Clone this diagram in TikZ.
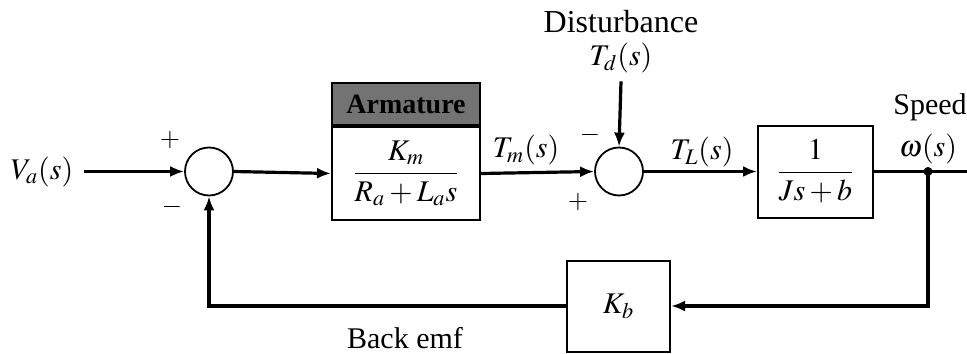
\documentclass[tikz,border=0pt]{standalone}
\usepackage{amsmath}
\usepackage{mathptmx}
\usepackage{fontspec}
\setmainfont{Liberation Serif}
\usetikzlibrary{positioning,arrows.meta,calc}
\tikzset{
  sig/.style  = {line width=1.6pt, -{Latex[length=7pt,width=5.5pt]}},
  wire/.style = {line width=1.6pt},
  sumc/.style = {circle, draw, line width=0.9pt, minimum size=24pt, inner sep=0pt},
  blk/.style  = {draw, line width=1pt, inner sep=0pt},
  lbl/.style  = {font=\fontsize{15}{17}\selectfont, inner sep=1pt},
  sgn/.style  = {font=\fontsize{13}{15}\selectfont, inner sep=1pt},
  jdot/.style = {circle, fill=black, inner sep=0pt, minimum size=4.5pt},
}
\begin{document}
\begin{tikzpicture}[x=0.5pt,y=-0.5pt]
  \useasboundingbox (0,0) rectangle (967,353);
  % forward path
  \node[lbl] (va) at (42,171.5) {$V_a(s)$};
  \node[sumc] (s1) at (209,171.5) {};
  \node[blk, fill=black!55, minimum width=74pt, minimum height=21pt,
        font=\fontsize{14}{16}\selectfont\bfseries] (armh) at (406,104) {Armature};
  \node[blk, minimum width=74pt, minimum height=46.5pt, below=0pt of armh,
        font=\fontsize{15}{17}\selectfont] (arm) {$\dfrac{K_m}{R_a+L_as}$};
  \node[sumc] (s2) at (619,171.5) {};
  \node[blk, minimum width=57.5pt, minimum height=46pt,
        font=\fontsize{15}{17}\selectfont] (tf) at (815.5,171.5) {$\dfrac{1}{Js+b}$};
  \node[jdot] (jn) at (928,171.5) {};
  \coordinate (yout) at (967,171.5);
  % feedback
  \node[blk, minimum width=51.5pt, minimum height=45.5pt,
        font=\fontsize{15}{17}\selectfont] (kb) at (618.5,306) {$K_b$};
  % labels
  \node[lbl, font=\fontsize{16}{18}\selectfont] (dist) at (621,22) {Disturbance};
  \node[lbl, inner sep=4pt] (td) at (621,58) {$T_d(s)$};
  \node[lbl] (tm) at (526,150) {$T_m(s)$};
  \node[lbl] (tl) at (702,152) {$T_L(s)$};
  \node[lbl] (spd) at (930,107) {Speed};
  \node[lbl] (om) at (928,149) {$\omega(s)$};
  \node[lbl] (bemf) at (405,338) {Back emf};
  \node[sgn] (p1) at (170,140) {$+$};
  \node[sgn] (m1) at (172,207) {$-$};
  \node[sgn] (m2) at (590,135) {$-$};
  \node[sgn] (p2) at (578,202) {$+$};
  % connectors
  \draw[sig] (va.east) ++(8,0) -- (s1.west);
  \draw[sig] (s1.east) -- (arm.west);
  \draw[sig] (arm.east) -- (s2.west);
  \draw[sig] (td.south) -- (s2.north);
  \draw[sig] (s2.east) -- (tf.west);
  \draw[wire] (tf.east) -- (jn.center) -- (yout);
  \draw[sig] (jn.center) |- (kb.east);
  \draw[sig] (kb.west) -| (s1.south);
\end{tikzpicture}
\end{document}
